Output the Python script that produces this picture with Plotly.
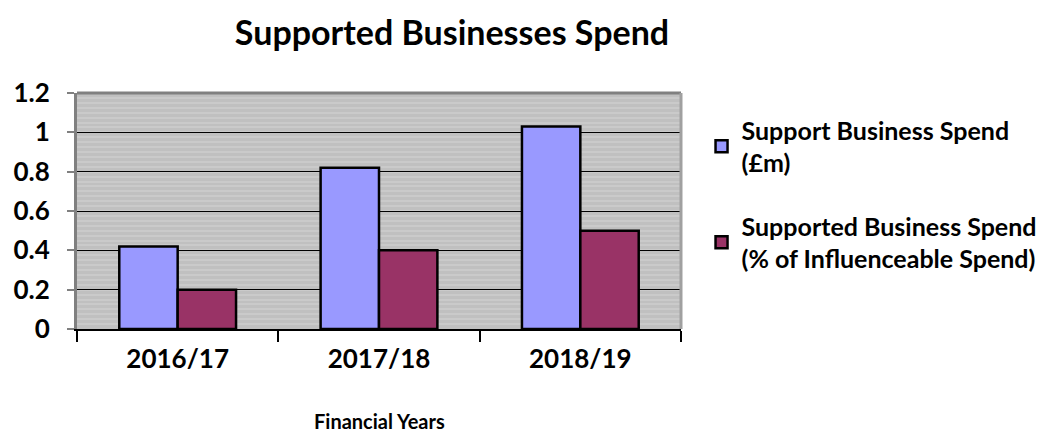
import plotly.graph_objects as go

years = ["2016/17", "2017/18", "2018/19"]
spend_m = [0.42, 0.82, 1.03]
spend_pct = [0.20, 0.40, 0.50]
series_names = ["Support Business Spend<br>(£m)",
                "Supported Business Spend<br>(% of Influenceable Spend)"]
y_ticks = [0, 0.2, 0.4, 0.6, 0.8, 1.0, 1.2]
y_tick_text = ["0", "0.2", "0.4", "0.6", "0.8", "1", "1.2"]

FONT = "Lato"
W, H = 1041, 428          # page body has an 8px margin
L, R, T, B = 69, 673, 85, 321   # plot area in figure pixels

fig = go.Figure()
fig.add_trace(go.Bar(x=years, y=spend_m, name=series_names[0], legendgroup="a",
                     marker=dict(color="#9999FF", line=dict(color="black", width=2.5))))
fig.add_trace(go.Bar(x=years, y=spend_pct, name=series_names[1], legendgroup="b",
                     marker=dict(color="#993366", line=dict(color="black", width=2.5))))

fig.update_layout(
    width=W, height=H,
    margin=dict(l=L, r=W - R, t=T, b=H - B, autoexpand=False),
    paper_bgcolor="white",
    plot_bgcolor="#C0C0C0",
    barmode="group",
    bargap=0.42,
    bargroupgap=0,
    font=dict(family=FONT, color="black", weight="bold"),
    title=dict(text="Supported Businesses Spend", x=444 / W, xanchor="center",
               y=1 - 25 / H, yanchor="middle", yref="container",
               font=dict(size=34, family=FONT, weight="bold", color="black")),
    legend=dict(x=1.034, y=0.94, xanchor="left", yanchor="top",
                font=dict(size=25, family=FONT, weight="bold"),
                traceorder="grouped", tracegroupgap=28, itemwidth=30,
                bgcolor="rgba(0,0,0,0)"),
    showlegend=True,
)

fig.update_yaxes(range=[0, 1.2], tickvals=y_ticks, ticktext=y_tick_text,
                 showgrid=True, gridcolor="black", gridwidth=1.2,
                 minor=dict(dtick=0.025, showgrid=True, gridcolor="#CACACA", gridwidth=2),
                 showline=True, linecolor="#808080", linewidth=3,
                 ticks="outside", ticklen=7, tickcolor="#808080", tickwidth=2,
                 ticklabelstandoff=12,
                 tickfont=dict(size=26, family=FONT, weight="bold"),
                 zeroline=False)
fig.update_xaxes(showline=True, linecolor="black", linewidth=2,
                 ticks="outside", ticklen=11, tickcolor="black", tickwidth=1.5,
                 tickson="boundaries", showgrid=False, ticklabelstandoff=6,
                 tickfont=dict(size=26, family=FONT, weight="bold"))

# plot-area top and right borders
fig.add_shape(type="line", xref="paper", yref="paper", x0=0, x1=1, y0=1, y1=1,
              line=dict(color="#808080", width=3))
fig.add_shape(type="line", xref="paper", yref="paper", x0=1, x1=1, y0=0, y1=1,
              line=dict(color="#A0A0A0", width=3))

fig.add_annotation(text="Financial Years", xref="paper", yref="paper",
                   x=0.5, y=(B - 413) / (B - T), xanchor="center", yanchor="middle",
                   showarrow=False, borderpad=0,
                   font=dict(size=20, family=FONT, weight="bold"))

fig.write_html("out.html")
